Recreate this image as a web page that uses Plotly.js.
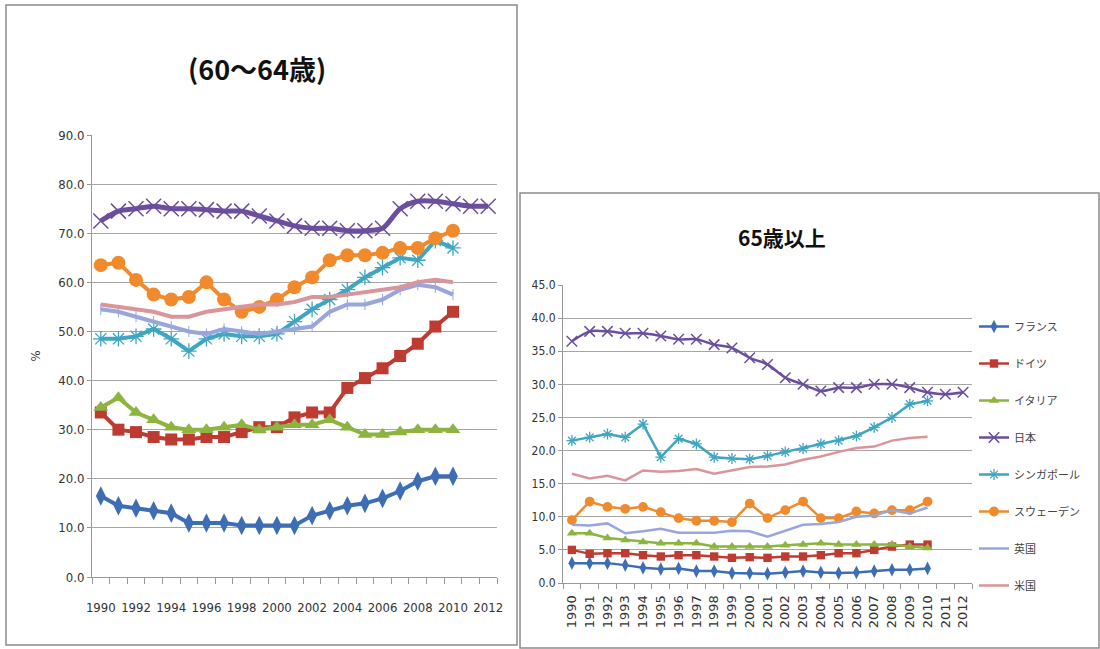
<!DOCTYPE html>
<html><head><meta charset="utf-8">
<script src="https://cdn.plot.ly/plotly-3.0.1.min.js"></script>
<style>html,body{margin:0;padding:0;background:#fff}#chart{width:1100px;height:649px}</style>
</head><body><div id="chart"></div>
<script>
// ---------- categories / tick labels ----------
const years = ['1990','1991','1992','1993','1994','1995','1996','1997','1998','1999','2000','2001','2002','2003','2004','2005','2006','2007','2008','2009','2010','2011','2012'];
const leftTickText = ['1990','','1992','','1994','','1996','','1998','','2000','','2002','','2004','','2006','','2008','','2010','','2012'];
const seriesNames = ['フランス','ドイツ','イタリア','日本','シンガポール','スウェーデン','英国','米国'];

// ---------- 60~64歳 (left) ----------
const l_france    = [16.5,14.5,14.0,13.5,13.0,11.0,11.0,11.0,10.5,10.5,10.5,10.5,12.5,13.5,14.5,15.0,16.0,17.5,19.5,20.5,20.5];
const l_germany   = [33.5,30.0,29.5,28.5,28.0,28.0,28.5,28.5,29.5,30.5,30.5,32.5,33.5,33.5,38.5,40.5,42.5,45.0,47.5,51.0,54.0];
const l_italy     = [34.5,36.5,33.5,32.0,30.5,30.0,30.0,30.5,31.0,30.0,30.5,31.0,31.0,32.0,30.5,29.0,29.0,29.5,30.0,30.0,30.0];
const l_japan     = [72.5,74.5,75.0,75.5,75.0,75.0,74.8,74.5,74.5,73.5,72.5,71.5,71.0,71.0,70.5,70.5,71.0,75.0,76.5,76.5,76.0,75.5,75.5];
const l_singapore = [48.5,48.5,49.0,50.5,48.5,46.0,48.5,49.5,49.0,49.0,49.5,52.0,54.5,56.5,58.5,61.0,63.0,65.0,64.5,68.5,67.0];
const l_sweden    = [63.5,64.0,60.5,57.5,56.5,57.0,60.0,56.5,54.0,55.0,56.5,59.0,61.0,64.5,65.5,65.5,66.0,67.0,67.0,69.0,70.5];
const l_uk        = [54.5,54.0,53.0,52.0,51.0,50.0,49.5,50.5,50.0,49.5,50.0,50.5,51.0,54.0,55.5,55.5,56.5,58.5,59.5,59.0,57.5];
const l_us        = [55.5,55.0,54.5,54.0,53.0,53.0,54.0,54.5,55.0,55.5,55.5,56.0,57.0,57.0,57.5,58.0,58.5,59.0,60.0,60.5,60.0];

// ---------- 65歳以上 (right) ----------
const r_france    = [3.0,3.0,3.0,2.7,2.3,2.1,2.2,1.8,1.8,1.5,1.5,1.4,1.6,1.8,1.6,1.5,1.6,1.8,2.0,2.0,2.2];
const r_germany   = [5.0,4.4,4.5,4.5,4.2,4.0,4.2,4.2,4.0,3.8,3.9,3.8,4.0,4.0,4.2,4.5,4.5,5.0,5.5,5.8,5.8];
const r_italy     = [7.5,7.5,6.8,6.5,6.2,6.0,6.0,6.0,5.5,5.5,5.5,5.5,5.7,5.8,6.0,5.8,5.8,5.8,5.8,5.5,5.3];
const r_japan     = [36.5,38.0,38.0,37.7,37.7,37.3,36.8,36.8,36.0,35.5,34.0,33.0,31.0,30.0,29.0,29.5,29.5,30.0,30.0,29.5,28.8,28.5,28.8];
const r_singapore = [21.5,22.0,22.5,22.0,24.0,19.0,21.8,21.0,19.0,18.8,18.7,19.2,19.8,20.3,21.0,21.5,22.2,23.5,25.0,27.0,27.5];
const r_sweden    = [9.5,12.3,11.5,11.2,11.5,10.7,9.8,9.4,9.4,9.2,12.0,9.8,11.0,12.3,9.8,9.8,10.8,10.5,11.0,11.0,12.3];
const r_uk        = [8.8,8.7,9.0,7.5,7.8,8.2,7.6,7.6,7.6,7.9,7.8,7.0,7.9,8.8,8.9,9.2,10.0,10.2,11.0,10.5,11.4];
const r_us        = [16.5,15.8,16.2,15.5,17.0,16.8,16.9,17.2,16.5,17.0,17.5,17.6,17.9,18.6,19.1,19.8,20.4,20.6,21.5,21.9,22.1];

// ---------- styles ----------
const colors = ['#3D6DB5','#BE3B32','#8CB540','#6B4E9E','#3FA6C2','#F08A2C','#97A6DC','#D9959A'];
const W = 1100, H = 649;
const px = v => v / W, py = v => 1 - v / H;
const narrow = 'Liberation Sans Narrow, Arial Narrow, DejaVu Sans Condensed, sans-serif';

const leftData  = [l_france,l_germany,l_italy,l_japan,l_singapore,l_sweden,l_uk,l_us];
const rightData = [r_france,r_germany,r_italy,r_japan,r_singapore,r_sweden,r_uk,r_us];

function markerFor(i, big) {
  const c = colors[i];
  const s = big ? 1 : 0.7;
  switch (i) {
    case 0: return {symbol:'diamond-tall', size:14*s, color:c};
    case 1: return {symbol:'square', size:12*s, color:c};
    case 2: return {symbol:'triangle-up', size:13*s, color:c};
    case 3: return {symbol:'x-thin', size:15*s, color:c, line:{color:c, width:1.5}};
    case 4: return {symbol:'asterisk', size:13*s, color:c, line:{color:c, width:1.3}};
    case 5: return {symbol:'circle', size:14*s, color:c};
    case 6: return big ? {symbol:'line-ns', size:8, color:c, line:{color:c, width:1}} : {size:1, color:c, opacity:0};
    default: return {size:1, color:c, opacity:0};
  }
}

const traces = [];
leftData.forEach((vals, i) => {
  traces.push({
    x: years.slice(0, vals.length), y: vals, type:'scatter',
    mode: (i === 7) ? 'lines' : 'lines+markers',
    name: seriesNames[i], xaxis:'x', yaxis:'y', showlegend:false,
    line:{color:colors[i], width:(i===3?5:4), shape:(i===3?'spline':'linear'), smoothing:0.8},
    marker: markerFor(i, true), hoverinfo:'x+y+name'
  });
});
rightData.forEach((vals, i) => {
  traces.push({
    x: years.slice(0, vals.length), y: vals, type:'scatter',
    mode: (i >= 6) ? 'lines' : 'lines+markers',
    name: seriesNames[i], xaxis:'x2', yaxis:'y2', showlegend:true, legendgroup:'g'+i,
    line:{color:colors[i], width:2.5, shape:(i===3?'spline':'linear'), smoothing:0.8},
    marker: markerFor(i, false), hoverinfo:'x+y+name'
  });
});

const layout = {
  width: W, height: H,
  margin: {l:0, r:0, t:0, b:0},
  paper_bgcolor:'#fff', plot_bgcolor:'#fff',
  font: {family: narrow, color:'#333'},
  showlegend: true,
  legend: {x: px(974), y: py(312), xanchor:'left', yanchor:'top', traceorder:'grouped', tracegroupgap:18,
           font:{family:'Noto Sans CJK JP, sans-serif', size:11, color:'#444'}, itemwidth:30, bgcolor:'rgba(0,0,0,0)'},
  xaxis: {
    domain:[px(92), px(497)], anchor:'y', type:'category', categoryorder:'array', categoryarray:years,
    range:[-0.5, 22.5], tickmode:'array', tickvals:years, ticktext:leftTickText, tickson:'boundaries',
    tickangle:0, ticks:'outside', ticklen:6, tickcolor:'#999', showgrid:false, showline:true, linecolor:'#999', linewidth:1,
    ticklabelstandoff:18,
    tickfont:{family:narrow, size:13, color:'#333'}, zeroline:false, fixedrange:true
  },
  yaxis: {
    domain:[py(577), py(135)], anchor:'x', range:[0,90], dtick:10, tickformat:'.1f',
    showgrid:true, gridcolor:'#A6A6A6', gridwidth:1, showline:true, linecolor:'#999',
    ticks:'outside', ticklen:4, tickcolor:'#999', zeroline:false,
    tickfont:{family:narrow, size:13, color:'#333'},
    title:{text:'%', font:{family:narrow, size:13, color:'#333'}, standoff:14}, fixedrange:true
  },
  xaxis2: {
    domain:[px(563), px(972)], anchor:'y2', type:'category', categoryorder:'array', categoryarray:years,
    range:[-0.5, 22.5], tickmode:'array', tickvals:years, ticktext:years, tickson:'boundaries', tickangle:-90,
    ticks:'outside', ticklen:5, tickcolor:'#999', showgrid:false, showline:true, linecolor:'#999',
    ticklabelstandoff:6,
    tickfont:{family:'DejaVu Sans, sans-serif', size:13, color:'#333'}, zeroline:false, fixedrange:true
  },
  yaxis2: {
    domain:[py(583), py(285)], anchor:'x2', range:[0,45], dtick:5, tickformat:'.1f',
    showgrid:true, gridcolor:'#A6A6A6', gridwidth:1, showline:true, linecolor:'#999',
    ticks:'outside', ticklen:4, tickcolor:'#999', zeroline:false,
    tickfont:{family:narrow, size:12, color:'#333'}, fixedrange:true
  },
  annotations: [
    {text:'<b>(60～64歳)</b>', xref:'paper', yref:'paper', x:px(257), y:py(68), xanchor:'center', yanchor:'middle',
     showarrow:false, font:{family:'Noto Sans CJK JP, sans-serif', size:27, color:'#111'}},
    {text:'<b>65歳以上</b>', xref:'paper', yref:'paper', x:px(782), y:py(237), xanchor:'center', yanchor:'middle',
     showarrow:false, font:{family:'Noto Sans CJK JP, sans-serif', size:21, color:'#111'}}
  ],
  shapes: [
    {type:'rect', xref:'paper', yref:'paper', x0:px(6), x1:px(517), y0:py(645), y1:py(5), line:{color:'#8c8c8c', width:1.5}, layer:'below'},
    {type:'rect', xref:'paper', yref:'paper', x0:px(520), x1:px(1099), y0:py(648), y1:py(193), line:{color:'#8c8c8c', width:1.5}, layer:'below'}
  ]
};

Plotly.newPlot('chart', traces, layout, {displayModeBar:false, staticPlot:true});
</script></body></html>
